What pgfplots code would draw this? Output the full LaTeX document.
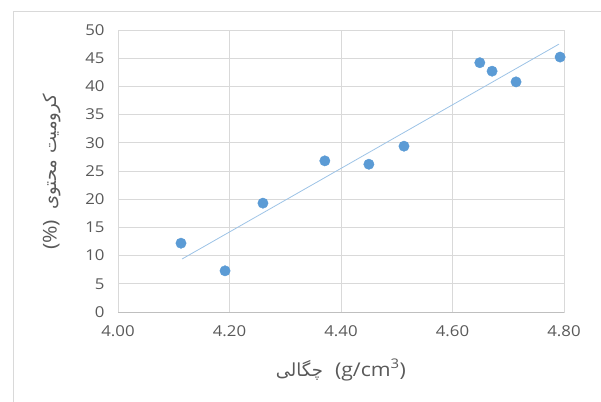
\documentclass[border=0pt]{standalone}
\usepackage{pgfplots}
\pgfplotsset{compat=1.18}
\usepackage{fontspec}
\setmainfont{Open Sans}[FakeStretch=1.12]
\newfontfamily\arabicfont[Script=Arabic]{DejaVu Sans}
\TeXXeTstate=1
\definecolor{dot}{HTML}{5B9BD5}
\definecolor{trend}{HTML}{9DC3E6}
\definecolor{gridc}{HTML}{D9D9D9}
\definecolor{axc}{HTML}{BFBFBF}
\definecolor{txt}{HTML}{595959}
\begin{document}
\begin{tikzpicture}
\useasboundingbox (-118bp,-90bp) rectangle (483bp,312bp);
\draw[gridc, line width=0.8bp] (-105bp,-95bp) -- (-105bp,301bp) -- (490bp,301bp);
\begin{axis}[
  at={(0,0)}, anchor=south west,
  scale only axis, width=446bp, height=282bp,
  xmin=4.0, xmax=4.8, ymin=0, ymax=50,
  xtick={4.0,4.2,...,4.81}, ytick={0,5,...,50},
  xticklabel style={/pgf/number format/.cd, fixed, fixed zerofill, precision=2},
  /pgf/number format/assume math mode=true,
  tick label style={font=\fontsize{15bp}{17bp}\selectfont, text=txt},
  major tick length=0pt,
  grid=major, grid style={gridc, line width=0.7bp},
  axis line style={gridc, line width=0.7bp},
  xticklabel shift=10bp, yticklabel shift=10bp,
  clip=false,
]
\draw[axc, line width=0.9bp] (axis cs:4.0,0) -- (axis cs:4.8,0);
\addplot[trend, line width=0.8bp] coordinates {(4.115,9.4) (4.791,47.5)};
\addplot[only marks, mark=*, mark size=5.2bp, mark options={fill=dot, draw=dot}] coordinates {
(4.113,12.2) (4.192,7.3) (4.260,19.3) (4.371,26.8) (4.450,26.2)
(4.513,29.4) (4.649,44.2) (4.671,42.7) (4.714,40.8) (4.793,45.2)
};
\end{axis}
\node[text=txt, font=\fontsize{19bp}{22bp}\selectfont, anchor=center] at (223bp,-58bp)
  {{\arabicfont\fontsize{18bp}{22bp}\selectfont\beginR چگالی\endR}\hspace{12bp}(g/cm\textsuperscript{3})};
\node[text=txt, font=\fontsize{19bp}{22bp}\selectfont, anchor=center, rotate=90] at (-66bp,140bp)
  {(\%)\hspace{10bp}{\arabicfont\fontsize{18bp}{22bp}\selectfont\beginR کرومیت محتوی\endR}};
\end{tikzpicture}
\end{document}
